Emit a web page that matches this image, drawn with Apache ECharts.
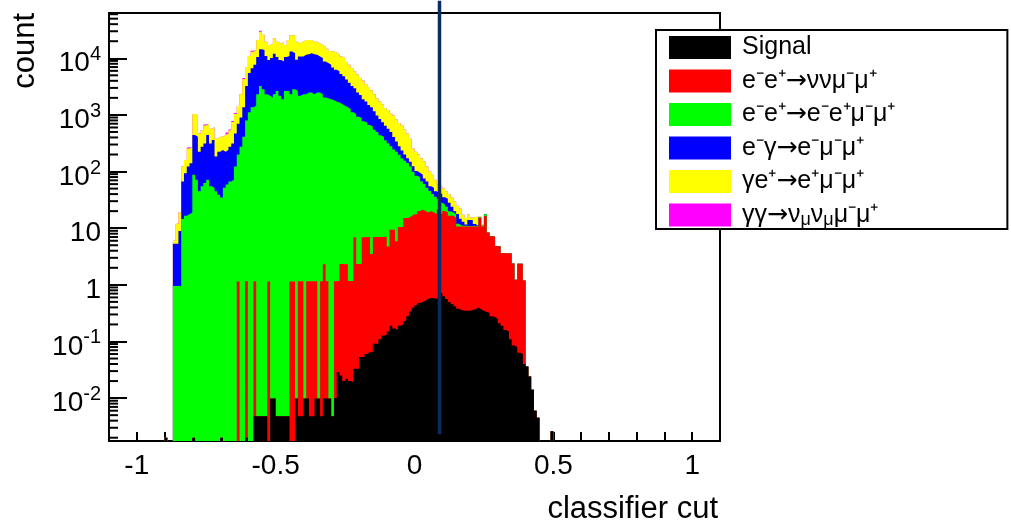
<!DOCTYPE html>
<html>
<head>
<meta charset="utf-8">
<script src="https://cdn.jsdelivr.net/npm/echarts@6/dist/echarts.min.js"></script>
<style>
html,body{margin:0;padding:0;background:#ffffff;}
#chart{width:1011px;height:525px;}
</style>
</head>
<body>
<div id="chart"></div>
<script>
// ---------------- data ----------------
const binStart = -0.90;   // lower edge of first bin
const binWidth = 0.01;

// per-process counts per bin
const signal = [
0.002,0,0,0,0,0,0,0,0,0,
0.002,0,0,0,0,0,0,0,0,0,
0.002,0,0,0,0,0,0,0,0,0.002,
0,0,0.0048,0.0048,0.0048,0.0048,0.0048,0,0.0098,0.0098,
0.0048,0.0048,0.0048,0.0048,0.0048,0,0,0.0098,0.0048,0.0048,
0.0098,0.0098,0.0048,0.0048,0.0098,0.0098,0.0048,0.0098,0.0098,0.0098,
0.0048,0.01,0.029,0.025,0.02,0.022,0.02,0.019,0.033,0.033,
0.053,0.053,0.06,0.065,0.065,0.091,0.091,0.11,0.127,0.13,
0.15,0.19,0.17,0.16,0.19,0.2,0.23,0.28,0.34,0.4,
0.44,0.48,0.5,0.53,0.57,0.59,0.58,0.57,0.6,0.72,
0.63,0.56,0.5,0.46,0.42,0.38,0.36,0.35,0.35,0.35,
0.36,0.37,0.4,0.37,0.35,0.33,0.32,0.28,0.27,0.25,
0.21,0.19,0.16,0.15,0.11,0.085,0.08,0.063,0.06,0.04,
0.036,0.024,0.014,0.006,0.0045,0,0,0,0,0.0026
];
const eeNuNuMuMu = [
0,0,0,0,0,0,0,0,0,0,
0,0,0,0,0,0,0,0,0,0,
0,0,0,0,0,0,1.15,0,0,1.15,
0,0,1.15,0,0,0,0,1.15,0,0,
0,0,0,0,0,1.15,1.15,0,1.15,1.15,
0,1.15,1.15,1.15,1.15,0,1.15,2.3,1.15,0,
0,1.15,1.15,2.3,2.3,2.3,1.15,1.15,6.9,2.3,
2.3,6.9,6.9,6.9,3.45,6.9,6.9,6.9,6.9,6.9,
4.6,9.2,9.2,5.75,10.35,10.35,14.95,14.95,16.1,17.25,
17.25,19.55,20.7,19.55,18.4,19.55,18.4,17.25,20.7,17.25,
19.55,18.4,16.1,16.1,14.95,10.35,10.35,10.35,10.35,10.35,
10.35,10.35,10.35,14.95,10.35,16.1,8.05,6.9,6.9,4.6,
4.6,3.45,3.45,3.45,3.45,2.3,1.15,2.3,2.3,1.15,
0,0,0,0,0,0,0,0,0,0
];
const eeEeMuMu = [
0,0,0,0.95,0.95,0.95,14.5,16.6,17.7,19,
88,72,45,55,63,72,55,52,45,39,
35,52,59,67,72,123,199,274,410,799,
1110,1360,1450,2320,3240,2850,2320,2170,2030,2320,
2650,2170,1900,2650,2650,2320,2830,2650,2170,2320,
2320,2480,2480,2320,2480,2480,2320,2030,1960,1900,
1820,1730,1660,1550,1450,1360,1270,1110,1030,930,
880,770,720,660,620,540,490,430,400,350,
310,270,235,218,187,160,140,126,106,82,
67,60,46,40,33,25,21,18,11.5,10.3,
6,5,3.4,2.4,2.2,1.3,0.5,0.4,0.4,0.2,
0.2,0.3,0.3,0.5,0.5,1.2,0,0,0,0,
0,0,0,0,0,0,0,0,0,0,
0,0,0,0,0,0,0,0,0,0
];
const eGammaEMuMu = [
0,0,0,4.35,4.35,8,52,77,105,121,
352,338,179,219,250,368,258,308,139,185,
205,172,181,207,241,347,500,626,950,2440,
4390,5340,6250,8180,11260,11150,8680,7130,8070,9680,
7850,7130,7000,7850,8350,10880,9470,6750,8630,8480,
9180,9320,9820,9480,9020,8320,7780,6770,6290,5800,
5080,4570,4240,3750,3380,2870,2430,2130,1910,1550,
1370,1120,1005,830,740,610,480,410,335,290,
257,220,165,116,83,65,45,31,27,25,
18,15,21,15,15,10,12,9,9,12,
9,9,8,5,2.3,5.7,3.5,1.9,0.5,3.1,
3.1,0.8,0,0,0,0,0,0,0,0,
0,0,0,0,0,0,0,0,0,0,
0,0,0,0,0,0,0,0,0,0
];
const gammaEEMuMu = [
0,0,0,0.7,6.7,10,56,66,133,134,
600,590,246,261,337,260,257,250,196,186,
170,216,230,261,437,570,730,1420,2940,3760,
5500,6400,6300,10500,15000,12000,8500,7900,7900,10500,
9000,8700,10600,6700,10000,12400,13300,10200,7600,8800,
9500,9200,8700,7800,8100,7600,7100,7300,6450,5800,
6300,6400,5900,5500,5270,4370,4000,3510,2950,2680,
2250,2150,1730,1600,1360,1160,1000,880,805,680,
650,570,570,490,440,415,350,298,230,131,
121,105,84,75,56,45,36,27,17,15,
15,12,12,11,10,7.3,7.5,4.3,3.5,3.4,
1.4,4,4.8,0.2,0.3,0,0,0,0,0,
0,0,0,0,0,0,0,0,0,0,
0,0,0,0,0,0,0,0,0,0
];
const gammaGammaNuNuMuMu = [
0,0,0,0,0,0,0,0,10,0,
0,0,0,0,25,0,0,0,0,0,
0,0,20,20,30,40,0,0,170,0,
0,500,0,0,1000,0,0,0,0,0,
0,0,0,0,0,0,0,0,0,0,
0,0,0,0,0,0,0,0,0,0,
0,0,0,0,0,0,0,0,0,0,
0,0,0,0,0,0,0,0,0,0,
0,0,0,0,0,0,0,0,0,0,
0,0,0,0,0,0,0,0,0,0,
0,0,0,0,0,0,0,0,0,0,
0,0,0,0,0,0,0,0,0,0,
0,0,0,0,0,0,0,0,0,0,
0,0,0,0,0,0,0,0,0,0
];

const seriesNames = ['Signal', 'e⁻e⁺→ννμ⁻μ⁺', 'e⁻e⁺→e⁻e⁺μ⁻μ⁺', 'e⁻γ→e⁻μ⁻μ⁺', 'γe⁺→e⁺μ⁻μ⁺', 'γγ→ν_μν_μμ⁻μ⁺'];
const seriesColors = ['#000000', '#ff0000', '#00ff00', '#0000ff', '#ffff00', '#ff00ff'];

const xTickLabels = [-1, -0.5, 0, 0.5, 1];
const yTickExponents = [-2, -1, 0, 1, 2, 3, 4];
const yMinorFactors = [2, 3, 4, 5, 6, 7, 8, 9];

const xRange = [-1.1, 1.1];
const yRange = [1.75e-3, 6.3e4];
const cutValue = 0.09;
const cutLineSpan = [2.3e-3, 1.04e5];

// ---------------- build ----------------
const FONT = 'Liberation Sans, Arial, Helvetica, sans-serif';
const layers = [signal, eeNuNuMuMu, eeEeMuMu, eGammaEMuMu, gammaEEMuMu, gammaGammaNuNuMuMu];
const N = signal.length;
const cumulative = [];
let running = new Array(N).fill(0);
layers.forEach(arr => {
  running = running.map((r, j) => r + arr[j]);
  cumulative.push(running.slice());
});
function stepData(c) {
  const d = [];
  for (let j = 0; j < N; j++) d.push([+(binStart + j * binWidth).toFixed(4), Math.max(c[j], yRange[0])]);
  d.push([+(binStart + N * binWidth).toFixed(4), Math.max(c[N - 1], yRange[0])]);
  return d;
}

const series = [];
for (let li = layers.length - 1; li >= 0; li--) {
  series.push({
    name: seriesNames[li],
    type: 'line',
    step: 'end',
    data: stepData(cumulative[li]),
    symbol: 'none',
    showSymbol: false,
    color: seriesColors[li],
    lineStyle: { width: 0 },
    areaStyle: { color: seriesColors[li], opacity: 1, origin: 'start' },
    silent: true,
    animation: false
  });
}
series.push({
  name: 'cut',
  type: 'line',
  data: [[cutValue, cutLineSpan[0]], [cutValue, cutLineSpan[1]]],
  symbol: 'none',
  clip: false,
  lineStyle: { color: '#0b2b63', width: 3.5 },
  silent: true,
  animation: false,
  z: 5
});
const minorTickData = [];
for (let d = -3; d <= 4; d++) {
  yMinorFactors.forEach(m => {
    const v = m * Math.pow(10, d);
    if (v > yRange[0] && v < yRange[1]) minorTickData.push([xRange[0], v]);
  });
}
series.push({
  name: 'minorTicks',
  type: 'custom',
  data: minorTickData,
  silent: true,
  animation: false,
  z: 6,
  renderItem: function (params, api) {
    const p = api.coord([api.value(0), api.value(1)]);
    return { type: 'line', shape: { x1: p[0], y1: p[1], x2: p[0] + 9, y2: p[1] }, style: { stroke: '#000', lineWidth: 2 } };
  }
});

const option = {
  backgroundColor: '#ffffff',
  animation: false,
  grid: { left: 109, top: 13, width: 611, height: 434, show: true, borderColor: '#000', borderWidth: 2, backgroundColor: '#fff', containLabel: false },
  legend: {
    orient: 'vertical',
    left: 656, top: 30,
    padding: [5, 112, 0, 13],
    itemWidth: 62, itemHeight: 23, itemGap: 8.5,
    backgroundColor: '#fff', borderColor: '#000', borderWidth: 2,
    selectedMode: false,
    data: seriesNames.map((n, i) => ({ name: n, icon: 'rect', itemStyle: { color: seriesColors[i], borderWidth: 0, opacity: 1 } })),
    formatter: function (name) { return name.replace(/_μ/g, '{sub|μ}').replace(/→/g, '{arr|→}'); },
    textStyle: {
      fontSize: 25, fontFamily: FONT, color: '#000', padding: [0, 0, 0, 6],
      rich: {
        sub: { fontSize: 18, fontFamily: FONT, color: '#000', padding: [10, 0, 0, 0] },
        arr: { fontSize: 25, fontFamily: 'DejaVu Sans', color: '#000' }
      }
    }
  },
  xAxis: {
    type: 'value', min: xRange[0], max: xRange[1], interval: 0.1,
    name: 'classifier cut', nameLocation: 'end', nameGap: -2,
    nameTextStyle: { fontSize: 31, fontFamily: FONT, color: '#000', align: 'right', verticalAlign: 'top', padding: [53, 0, 0, 0] },
    axisLine: { show: true, onZero: false, lineStyle: { color: '#000', width: 2 } },
    axisTick: { show: true, inside: true, length: 9, lineStyle: { color: '#000', width: 2 } },
    splitLine: { show: false },
    axisLabel: {
      margin: 11, fontSize: 28, fontFamily: FONT, color: '#000',
      formatter: function (v) {
        const t = xTickLabels.find(t => Math.abs(t - v) < 1e-6);
        return t === undefined ? '' : String(t);
      }
    }
  },
  yAxis: {
    type: 'log', logBase: 10, min: yRange[0], max: yRange[1],
    name: 'count', nameLocation: 'end', nameRotate: 90, nameGap: 0,
    nameTextStyle: { fontSize: 31, fontFamily: FONT, color: '#000', align: 'right', verticalAlign: 'bottom', padding: [0, 0, 68, 0] },
    axisLine: { show: true, onZero: false, lineStyle: { color: '#000', width: 2 } },
    axisTick: { show: true, inside: true, length: 18, lineStyle: { color: '#000', width: 2 } },
    splitLine: { show: false },
    axisLabel: {
      margin: 8, fontFamily: FONT, color: '#000', padding: [6, 0, 0, 0],
      formatter: function (v) {
        const e = Math.log10(v);
        const n = Math.round(e);
        if (Math.abs(e - n) > 1e-6 || yTickExponents.indexOf(n) < 0) return '';
        if (n === 0) return '{b|1}';
        if (n === 1) return '{b|10}';
        return '{b|10}{s|' + n + '}';
      },
      rich: {
        b: { fontSize: 28, fontFamily: FONT, color: '#000', padding: [5, 0, 0, 0], verticalAlign: 'bottom' },
        s: { fontSize: 20, fontFamily: FONT, color: '#000', verticalAlign: 'top' }
      }
    }
  },
  series: series
};

const chart = echarts.init(document.getElementById('chart'));
chart.setOption(option);
</script>
</body>
</html>
